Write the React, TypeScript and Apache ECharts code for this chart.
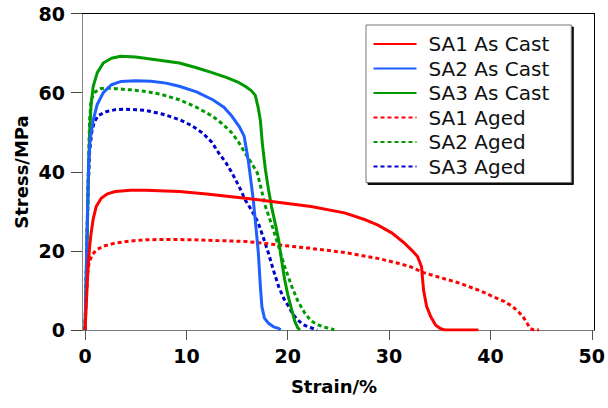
import React, { useEffect, useRef } from "react";
import * as echarts from "echarts";

// Tick positions
const xTicks = [0, 10, 20, 30, 40, 50];

// Series names
const seriesNames = ["SA1 As Cast", "SA2 As Cast", "SA3 As Cast", "SA1 Aged", "SA2 Aged", "SA3 Aged"];

// Strain (%) / Stress (MPa) pairs
const sa1AsCast: [number, number][] = [
  [0, 0], [0.15, 8], [0.3, 16], [0.45, 21], [0.6, 24.5], [0.8, 28], [1.1, 31.2], [1.6, 33.3],
  [2.2, 34.4], [3, 35], [4.5, 35.3], [6, 35.3], [9.3, 35], [12, 34.4], [15.8, 33.3], [19, 32.3],
  [22.3, 31.2], [25.6, 29.6], [27.5, 28], [28.9, 26.5], [30.3, 24.5], [31.5, 22], [32.3, 20],
  [32.8, 18.6], [33.2, 16], [33.4, 10.1], [33.7, 6], [34.1, 3.4], [34.6, 1.2], [35.1, 0.3],
  [35.5, 0], [38.8, 0],
];
const sa2AsCast: [number, number][] = [
  [0, 0], [0.2, 25], [0.35, 42], [0.5, 48], [0.8, 53], [1.2, 57], [1.8, 60], [2.6, 62],
  [3.5, 62.8], [5, 63], [6.5, 62.9], [8, 62.4], [9.3, 61.6], [11, 60.2], [12.6, 58.2],
  [13.7, 56.3], [14.5, 54], [15.2, 51.5], [15.7, 49], [16.1, 43], [16.4, 37], [16.6, 32.9],
  [16.9, 25], [17.1, 19.5], [17.3, 11], [17.45, 5.9], [17.7, 3], [18.1, 1.7], [18.6, 0.8],
  [19.1, 0.4], [19.3, 0],
];
const sa3AsCast: [number, number][] = [
  [0, 0], [0.15, 15], [0.3, 35], [0.45, 50], [0.6, 57], [0.8, 61.5], [1.2, 65], [1.8, 67.5],
  [2.6, 68.7], [3.5, 69.2], [5, 69], [7, 68.3], [9.3, 67.5], [11, 66.3], [12.6, 65], [14, 63.8],
  [15.2, 62.5], [15.8, 61.6], [16.4, 60.5], [16.8, 59.3], [17.1, 56], [17.3, 53], [17.5, 47],
  [17.8, 40.5], [18.1, 35.5], [18.4, 31.2], [18.8, 26.5], [19.1, 22.8], [19.4, 17.5],
  [19.7, 12.7], [20, 9], [20.4, 5], [20.7, 2.2], [21, 0.5], [21.2, 0],
];
const sa1Aged: [number, number][] = [
  [0, 0], [0.1, 7], [0.25, 14], [0.4, 17], [0.7, 19], [1.1, 20.2], [1.8, 21.2], [3, 22],
  [4.5, 22.5], [6, 22.8], [8, 22.9], [10.9, 22.8], [13, 22.6], [15.8, 22.4], [19.1, 21.5],
  [22, 20.7], [25.6, 19.6], [28.9, 18.1], [31, 16.8], [32.1, 16], [33.4, 14.5], [35, 13.3],
  [37, 11.8], [39, 9.9], [40.3, 8.4], [41.4, 7.2], [42.2, 5.9], [42.8, 4.5], [43.2, 3.4],
  [43.6, 1.8], [43.9, 0.4], [44.3, 0], [44.8, 0],
];
const sa2Aged: [number, number][] = [
  [0, 0], [0.15, 18], [0.3, 38], [0.45, 53], [0.6, 58], [0.9, 60], [1.5, 61], [2.1, 61.2],
  [3, 61], [4.5, 60.7], [6, 60.3], [7.6, 59.5], [9.3, 58.2], [11, 56.3], [12.6, 54], [13.6, 52],
  [14.5, 49.8], [15.2, 47.3], [15.8, 44.7], [16.4, 42.3], [17, 39.7], [17.4, 35.5], [17.8, 31.2],
  [18.5, 26], [19.1, 21.1], [19.7, 16], [20.4, 11], [21, 7.3], [21.7, 4.2], [22.3, 2.3],
  [23, 1.3], [23.6, 0.7], [24.3, 0.3], [24.6, 0],
];
const sa3Aged: [number, number][] = [
  [0, 0], [0.15, 17], [0.3, 35], [0.45, 45], [0.65, 49.8], [0.9, 52.5], [1.3, 54.2], [2.1, 55.2],
  [3, 55.7], [3.75, 55.8], [5, 55.7], [6, 55.5], [7.6, 54.6], [9.3, 53.2], [10.5, 51.7],
  [11.6, 49.8], [12.5, 47.5], [13.2, 44.7], [13.9, 42.3], [14.5, 39.7], [15.2, 36.3],
  [15.8, 32.9], [16.5, 30], [17.1, 27], [17.6, 23.3], [18.1, 19.4], [18.6, 15], [19.1, 11],
  [19.6, 8], [20.1, 5.9], [20.5, 4], [21, 2.5], [21.5, 1.4], [22, 0.8], [22.7, 0.2], [22.9, 0],
];

const seriesData = [sa1AsCast, sa2AsCast, sa3AsCast, sa1Aged, sa2Aged, sa3Aged];
const seriesColors = ["#ff0000", "#1f5fff", "#009a00", "#ff0000", "#009a00", "#0000c8"];
const seriesDashed = [false, false, false, true, true, true];

export default function App() {
  const ref = useRef<HTMLDivElement>(null);
  useEffect(() => {
    if (!ref.current) return;
    const chart = echarts.init(ref.current, null, { renderer: "svg" });
    const tickFont = { fontFamily: "DejaVu Sans", fontWeight: "bold" as const, fontSize: 19, color: "#000" };
    chart.setOption({
      animation: false,
      backgroundColor: "#fff",
      grid: { left: 82, right: 9.5, top: 13.5, bottom: 78, containLabel: false },
      xAxis: [
        {
          type: "value", min: -0.3, max: 50.25, position: "bottom",
          axisLine: { show: true, onZero: false, lineStyle: { color: "#777", width: 1 } },
          axisTick: { show: true, customValues: xTicks, length: 10, lineStyle: { color: "#555" } },
          axisLabel: { customValues: xTicks, margin: 16, ...tickFont },
          splitLine: { show: false },
        },
        {
          type: "value", min: -0.3, max: 50.25, position: "top",
          axisLine: { show: true, onZero: false, lineStyle: { color: "#000", width: 1 } },
          axisTick: { show: false }, axisLabel: { show: false }, splitLine: { show: false },
        },
      ],
      yAxis: [
        {
          type: "value", min: 0, max: 80, interval: 20, position: "left",
          axisLine: { show: true, onZero: false, lineStyle: { color: "#888", width: 1 } },
          axisTick: { show: true, length: 11, lineStyle: { color: "#444" } },
          axisLabel: { margin: 17, ...tickFont },
          splitLine: { show: false },
        },
        {
          type: "value", min: 0, max: 80, position: "right",
          axisLine: { show: true, onZero: false, lineStyle: { color: "#000", width: 1 } },
          axisTick: { show: false }, axisLabel: { show: false }, splitLine: { show: false },
        },
      ],
      legend: {
        data: seriesNames,
        orient: "vertical",
        left: 366,
        top: 25,
        itemWidth: 43,
        itemHeight: 14,
        itemGap: 4.5,
        padding: [9, 22, 6, 6.5],
        backgroundColor: "#fff",
        borderColor: "#777",
        borderWidth: 1,
        shadowColor: "rgba(0,0,0,0.95)",
        shadowOffsetX: 2,
        shadowOffsetY: 2,
        shadowBlur: 1,
        itemStyle: { opacity: 0 },
        textStyle: { fontFamily: "DejaVu Sans", fontSize: 20, color: "#111", lineHeight: 20, padding: [0, 0, 0, 7] },
      },
      graphic: [
        {
          type: "text", x: 334, y: 386,
          style: { text: "Strain/%", align: "center", verticalAlign: "middle", font: 'bold 18px "DejaVu Sans"', fill: "#000" },
        },
        {
          type: "text", x: 21, y: 172, rotation: Math.PI / 2,
          style: { text: "Stress/MPa", align: "center", verticalAlign: "middle", font: 'bold 18px "DejaVu Sans"', fill: "#000" },
        },
      ],
      series: seriesNames.map((name, i) => ({
        name,
        type: "line",
        xAxisIndex: 0,
        yAxisIndex: 0,
        data: seriesData[i],
        symbol: "none",
        showSymbol: false,
        smooth: false,
        z: 2 + (5 - i),
        itemStyle: { color: seriesColors[i] },
        lineStyle: { color: seriesColors[i], width: 3, type: seriesDashed[i] ? [4, 3] : "solid" },
      })),
    });
    return () => chart.dispose();
  }, []);
  return <div ref={ref} style={{ position: "fixed", left: 0, top: 0, width: 608, height: 408 }} />;
}
